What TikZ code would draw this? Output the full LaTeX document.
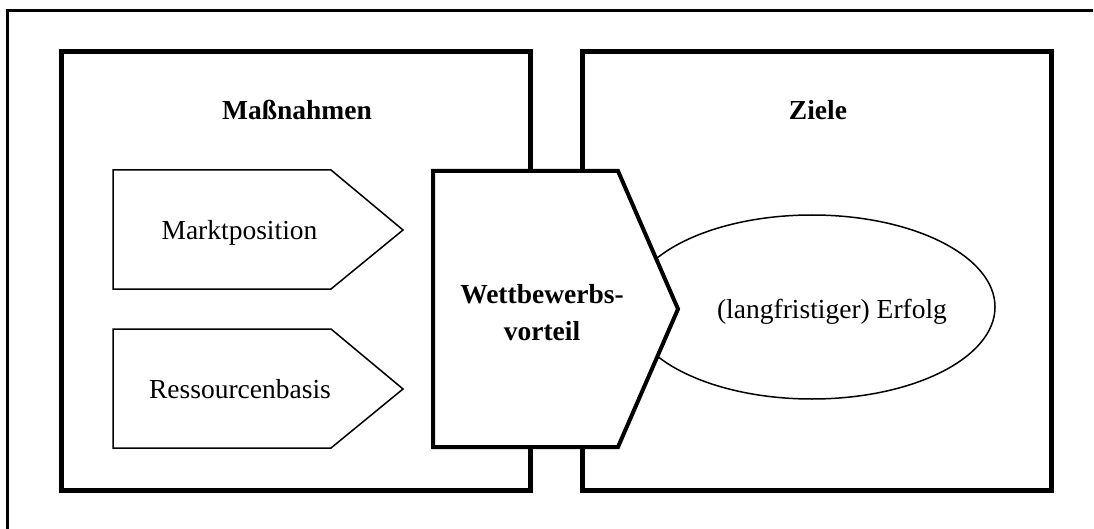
\documentclass[tikz,border=0pt]{standalone}
\usepackage{fontspec}
\setmainfont{Liberation Serif}
\usetikzlibrary{shapes.geometric}
\begin{document}
\begin{tikzpicture}[x=1pt,y=-1pt,
  lbl/.style={font=\fontsize{27.5}{37}\selectfont, inner sep=0pt, anchor=base},
  ttl/.style={lbl, font=\fontsize{27.5}{37}\selectfont\bfseries},
  heavy/.style={line width=5pt, line join=miter},
  thin/.style={line width=1.5pt, line join=miter},
  chevron/.style={line width=4pt, line join=miter, fill=white}]
\useasboundingbox (0,0) rectangle (1094,529);
% outer frame
\draw[line width=2.5pt] (7.5,529) -- (7.5,10.5) -- (1093,10.5);
% the two panels
\draw[heavy] (61,52) rectangle (530.5,490.5);
\draw[heavy] (582.5,52) rectangle (1051.5,490.5);
% goal ellipse
\node[ellipse, draw, line width=1.5pt, minimum width=366pt, minimum height=184pt, inner sep=0pt] (erfolg) at (812,307) {};
% measures
\draw[thin] (113,170) -- (331,170) -- (403,230) -- (331,289) -- (113,289) -- cycle;
\draw[thin] (113,329) -- (331,329) -- (403,389) -- (331,448) -- (113,448) -- cycle;
% competitive advantage
\draw[chevron] (433,171) -- (618,171) -- (678,309) -- (618,447) -- (433,447) -- cycle;
% labels
\node[ttl] (massn) at (297,120) {Maßnahmen};
\node[ttl] (ziele) at (818,120) {Ziele};
\node[lbl] (markt) at (239.5,240) {Marktposition};
\node[lbl] (ress) at (240,398) {Ressourcenbasis};
\node[ttl, align=center] (wett) at (542,340) {Wettbewerbs-\\vorteil};
\node[lbl] (erftext) at (832,318) {(langfristiger) Erfolg};
\end{tikzpicture}
\end{document}
